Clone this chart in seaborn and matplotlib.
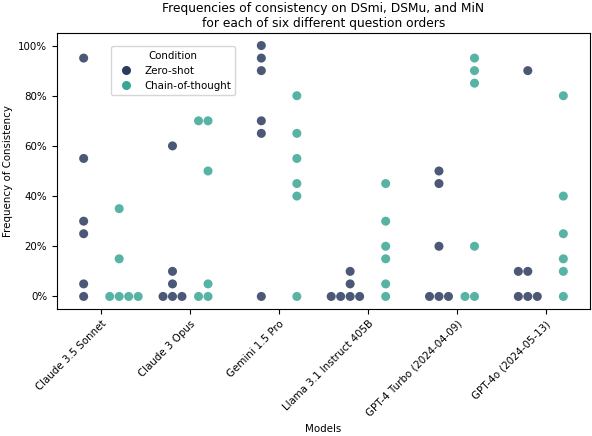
import matplotlib
matplotlib.use("Agg")
import matplotlib.pyplot as plt
import seaborn as sns
import pandas as pd
from matplotlib.ticker import PercentFormatter

models = ["Claude 3.5 Sonnet", "Claude 3 Opus", "Gemini 1.5 Pro",
          "Llama 3.1 Instruct 405B", "GPT-4 Turbo (2024-04-09)", "GPT-4o (2024-05-13)"]
conditions = ["Zero-shot", "Chain-of-thought"]

zero_shot = {
    "Claude 3.5 Sonnet": [95, 55, 30, 25, 5, 0],
    "Claude 3 Opus": [60, 10, 5, 0, 0, 0],
    "Gemini 1.5 Pro": [100, 95, 90, 70, 65, 0],
    "Llama 3.1 Instruct 405B": [10, 5, 0, 0, 0, 0],
    "GPT-4 Turbo (2024-04-09)": [50, 45, 20, 0, 0, 0],
    "GPT-4o (2024-05-13)": [90, 10, 10, 0, 0, 0],
}
chain_of_thought = {
    "Claude 3.5 Sonnet": [35, 15, 0, 0, 0, 0],
    "Claude 3 Opus": [70, 70, 50, 5, 0, 0],
    "Gemini 1.5 Pro": [80, 65, 55, 45, 40, 0],
    "Llama 3.1 Instruct 405B": [45, 30, 20, 15, 5, 0],
    "GPT-4 Turbo (2024-04-09)": [95, 90, 85, 20, 0, 0],
    "GPT-4o (2024-05-13)": [80, 40, 25, 15, 10, 0],
}

rows = []
for m in models:
    for v in zero_shot[m]:
        rows.append({"Models": m, "Condition": "Zero-shot", "Frequency": v})
    for v in chain_of_thought[m]:
        rows.append({"Models": m, "Condition": "Chain-of-thought", "Frequency": v})
df = pd.DataFrame(rows)

palette = {"Zero-shot": "#2b3b5e", "Chain-of-thought": "#3aa794"}

fig, ax = plt.subplots(figsize=(5.92, 4.36), dpi=100)
sns.swarmplot(data=df, x="Models", y="Frequency", hue="Condition",
              hue_order=conditions, order=models, dodge=True,
              palette=palette, size=6.5, alpha=0.85, ax=ax)

ax.set_xlim(-0.5, 5.5)
ax.set_ylim(-5, 105)
ax.yaxis.set_major_formatter(PercentFormatter(100, decimals=0))
ax.set_ylabel("Frequency of Consistency", fontsize=7.4)
ax.set_xlabel("Models", fontsize=7.4)
ax.tick_params(axis="both", labelsize=7.4)
plt.setp(ax.get_xticklabels(), rotation=45, ha="right", rotation_mode="anchor")
ax.set_title("Frequencies of consistency on DSmi, DSMu, and MiN\nfor each of six different question orders",
             fontsize=8.8, pad=4)
leg = ax.legend(title="Condition", loc="upper left", bbox_to_anchor=(0.092, 0.97),
                fontsize=7.4, title_fontsize=7.4)
for h in leg.legend_handles:
    h.set_alpha(1)

fig.subplots_adjust(left=0.0963, right=0.9966, top=0.9243, bottom=0.2913)
fig.savefig("out.png", dpi=100)
